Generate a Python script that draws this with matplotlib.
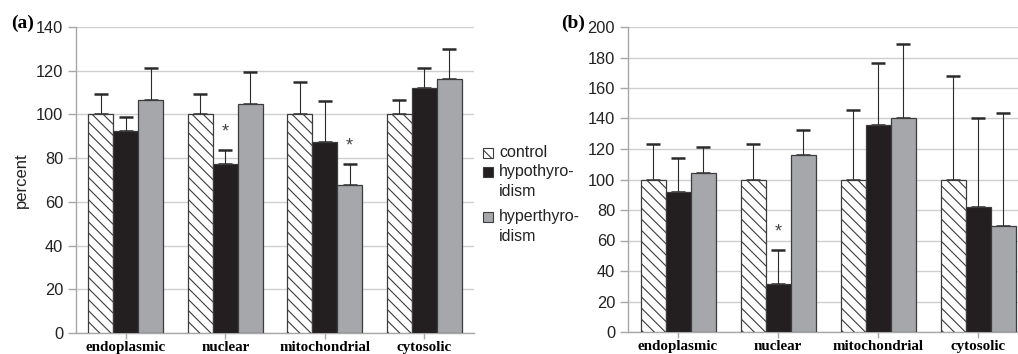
import matplotlib
matplotlib.use("Agg")
import matplotlib.pyplot as plt
import numpy as np
from matplotlib.patches import Rectangle

categories = ["endoplasmic", "nuclear", "mitochondrial", "cytosolic"]
series_names = ["control", "hypothyro-\nidism", "hyperthyro-\nidism"]

# Panel (a)
a_control = [100, 100, 100, 100]
a_control_err = [9.3, 9.3, 14.9, 6.5]
a_hypo = [92.5, 77.3, 87.4, 112.0]
a_hypo_err = [6.3, 6.2, 18.8, 9.1]
a_hyper = [106.8, 104.9, 67.7, 116.4]
a_hyper_err = [14.5, 14.4, 9.6, 13.7]
a_sig_hypo = [False, True, False, False]
a_sig_hyper = [False, False, True, False]

# Panel (b)
b_control = [100, 100, 100, 100]
b_control_err = [23.1, 23.1, 45.5, 67.8]
b_hypo = [91.8, 31.5, 135.8, 82.1]
b_hypo_err = [22.3, 22.4, 40.5, 58.3]
b_hyper = [104.5, 115.9, 140.4, 69.7]
b_hyper_err = [16.9, 16.4, 48.6, 73.6]
b_sig_hypo = [False, True, False, False]
b_sig_hyper = [False, False, False, False]

plt.rcParams["font.family"] = ["Liberation Sans", "DejaVu Sans"]
plt.rcParams["hatch.linewidth"] = 0.8
plt.rcParams["hatch.color"] = "#3a3a3a"

W, H = 1018, 354
fig = plt.figure(figsize=(W / 100, H / 100), dpi=100)

EDGE = "#3c3c3c"
BLACK = "#231f20"
GRAY = "#a6a7aa"
GRID = "#cfcfcf"
AXC = "#a8a8a8"
TXT = "#222222"
bw = 0.25


def panel(ax, ctrl, ctrl_e, hypo, hypo_e, hyper, hyper_e, sig_hypo, sig_hyper, ymax):
    x = np.arange(len(categories))
    specs = [
        (ctrl, ctrl_e, -bw, dict(facecolor="white", hatch="\\\\\\")),
        (hypo, hypo_e, 0.0, dict(facecolor=BLACK)),
        (hyper, hyper_e, bw, dict(facecolor=GRAY)),
    ]
    for vals, errs, off, st in specs:
        ax.bar(x + off, vals, width=bw, edgecolor=EDGE, linewidth=0.9, zorder=3, **st)
        ax.errorbar(x + off, vals, yerr=[np.zeros(len(vals)), errs], fmt="none",
                    ecolor="#2a2a2a", elinewidth=0.8, capsize=5, capthick=1.8, zorder=2)
    for sigs, vals, errs, off in [(sig_hypo, hypo, hypo_e, 0.0), (sig_hyper, hyper, hyper_e, bw)]:
        for i, s in enumerate(sigs):
            if s:
                ax.annotate("*", (x[i] + off, vals[i] + errs[i]), xytext=(0, 7),
                            textcoords="offset points", ha="center", va="bottom",
                            fontsize=13, color="#444444")
    ax.set_xlim(-0.5, len(categories) - 0.5)
    ax.set_ylim(0, ymax)
    ax.set_yticks(np.arange(0, ymax + 1, 20))
    ax.set_xticks(x)
    ax.set_xticklabels(categories, fontfamily=["Liberation Serif", "DejaVu Serif"],
                       fontweight="bold", fontsize=10.8)
    ax.yaxis.grid(True, color=GRID, linewidth=1.0, zorder=0)
    ax.set_axisbelow(True)
    for s in ["top", "right"]:
        ax.spines[s].set_visible(False)
    for s in ["left", "bottom"]:
        ax.spines[s].set_color(AXC)
        ax.spines[s].set_linewidth(1.0)
    ax.tick_params(axis="y", length=5.8, width=1.0, color=AXC, labelsize=11.8, pad=3.5,
                   labelcolor=TXT)
    ax.tick_params(axis="x", length=4, width=1.0, color=AXC, pad=2)


axa = fig.add_axes([76 / W, 21 / H, 398 / W, 306 / H])
panel(axa, a_control, a_control_err, a_hypo, a_hypo_err, a_hyper, a_hyper_err,
      a_sig_hypo, a_sig_hyper, 140)
axa.set_ylabel("percent", fontsize=12, labelpad=5, color=TXT)

axb = fig.add_axes([628 / W, 22 / H, 400 / W, 305 / H])
panel(axb, b_control, b_control_err, b_hypo, b_hypo_err, b_hyper, b_hyper_err,
      b_sig_hypo, b_sig_hyper, 200)

# panel letters
fig.text(11 / W, 1 - 23 / H, "(a)", fontfamily=["Liberation Serif"], fontweight="bold",
         fontsize=14, va="center", ha="left")
fig.text(561 / W, 1 - 23 / H, "(b)", fontfamily=["Liberation Serif"], fontweight="bold",
         fontsize=14, va="center", ha="left")

# legend (manual)
leg_styles = [dict(facecolor="white", hatch="\\\\\\"), dict(facecolor=BLACK), dict(facecolor=GRAY)]
leg_y = [153, 172, 217]
for name, st, yy in zip(series_names, leg_styles, leg_y):
    fig.patches.append(Rectangle((483 / W, 1 - (yy + 5) / H), 10 / W, 10 / H,
                                 transform=fig.transFigure, edgecolor=EDGE,
                                 linewidth=0.8, **st))
    fig.text(499 / W, 1 - (yy - 8) / H, name, fontsize=11.5, va="top", ha="left",
             linespacing=1.4, color=TXT)

fig.savefig("out.png", dpi=100)
